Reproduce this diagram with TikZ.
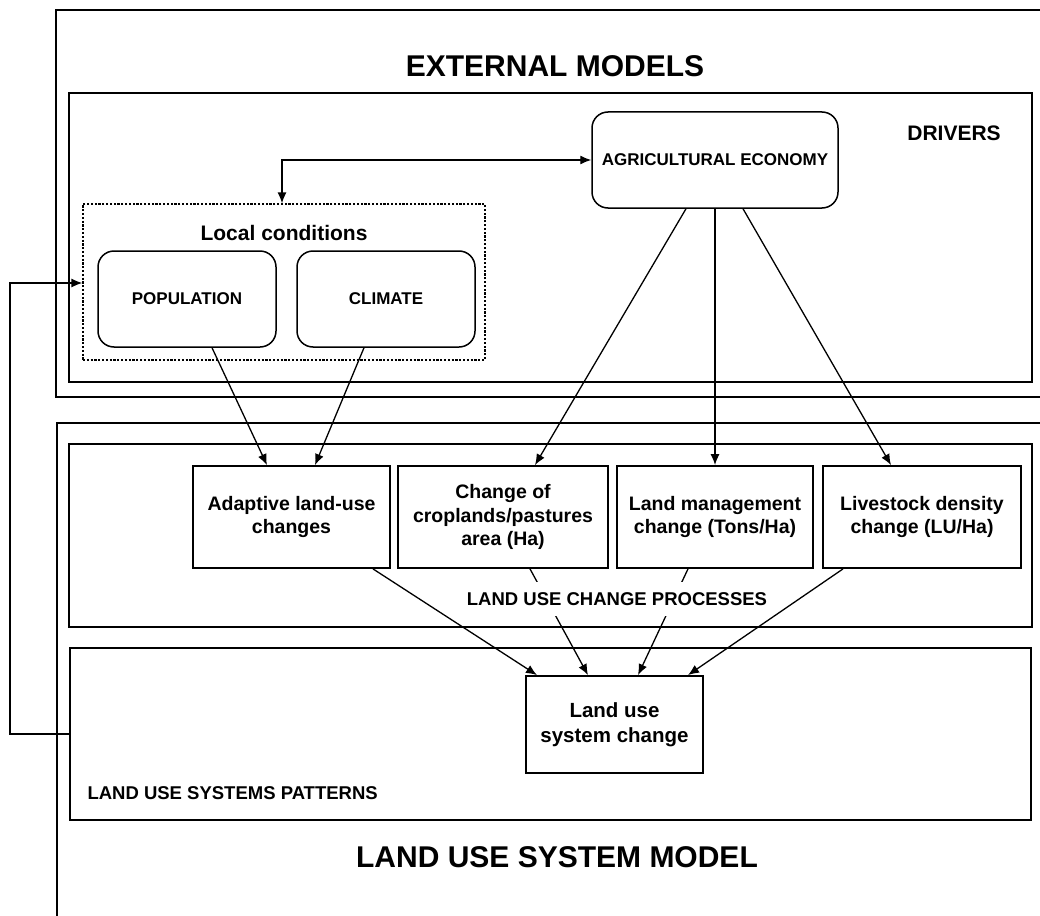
\documentclass[tikz,border=0pt]{standalone}
\usepackage{fontspec}
\setmainfont{Liberation Sans}
\usetikzlibrary{arrows.meta,calc}
\newcommand\myfs[2]{\fontsize{#1}{#2}\selectfont\bfseries}
\begin{document}
\begin{tikzpicture}[x=1pt,y=-1pt,
  frame/.style={draw, line width=2.3pt},
  panel/.style={draw, line width=1.7pt, inner sep=0pt},
  procbox/.style={draw, line width=1.8pt, inner sep=0pt, align=center, font=\myfs{19.5}{23.5}},
  roundbox/.style={draw, line width=1.5pt, rounded corners=16pt, inner sep=0pt, align=center, font=\myfs{17}{20}},
  localbox/.style={draw, line width=1.3pt, dash pattern=on 2.2pt off 1.6pt, inner sep=0pt},
  arr/.style={line width=1.3pt, -{Latex[length=11pt,width=9pt]}},
  biarr/.style={line width=1.3pt, {Latex[length=11pt,width=9pt]}-{Latex[length=11pt,width=9pt]}},
  title/.style={font=\myfs{30}{34}},
  label/.style={font=\myfs{21}{25}},
  small/.style={font=\myfs{18.5}{22}}
]
\useasboundingbox (0,0) rectangle (1040,915);
\clip (0,0) rectangle (1040,915);

% outer frames
\draw[frame] (1060,10) -- (56,10) -- (56,397) -- (1060,397);
\draw[frame] (1060,423) -- (57,423) -- (57,930);

% titles
\node[title] (exttitle) at (555,66) {EXTERNAL MODELS};
\node[title] (lustitle) at (557,857) {LAND USE SYSTEM MODEL};

% panels
\node[panel, minimum width=963pt, minimum height=289pt] (drivers) at (550.5,237.5) {};
\node[panel, minimum width=963pt, minimum height=183pt] (lucp) at (550.5,535.5) {};
\node[panel, minimum width=961pt, minimum height=172pt] (lusp) at (550.5,734) {};

\node[label] (driverslbl) at (954,133) {DRIVERS};
\node[small, anchor=west] (lusplbl) at (84,793) {LAND USE SYSTEMS PATTERNS};

% local conditions
\node[localbox, minimum width=402pt, minimum height=156pt] (local) at (284,282) {};
\node[label] (locallbl) at (284,233) {Local conditions};
\node[roundbox, minimum width=178pt, minimum height=96pt] (pop) at (187,299) {POPULATION};
\node[roundbox, minimum width=178pt, minimum height=96pt] (clim) at (386,299) {CLIMATE};

% agricultural economy
\node[roundbox, minimum width=246pt, minimum height=96pt] (agri) at (715,160) {AGRICULTURAL ECONOMY};

% process boxes
\node[procbox, minimum width=197pt, minimum height=102pt] (adapt) at (291.5,517) {Adaptive land-use\\changes};
\node[procbox, minimum width=210pt, minimum height=102pt] (crop) at (503,517) {Change of\\croplands/pastures\\area (Ha)};
\node[procbox, minimum width=196pt, minimum height=102pt] (mgmt) at (715,517) {Land management\\change (Tons/Ha)};
\node[procbox, minimum width=198pt, minimum height=102pt] (live) at (922,517) {Livestock density\\change (LU/Ha)};

% land use system change
\node[procbox, font=\myfs{20.5}{25.5}, minimum width=177pt, minimum height=97pt] (lusc) at (614.5,724.5) {Land use\\system change};

% connectors
\draw[biarr] (local.north -| 282,0) -- (282,160) -- (agri.west);

\draw[arr] ([xshift=25pt]pop.south) -- ([xshift=-24.5pt]adapt.north);
\draw[arr] ([xshift=-22pt]clim.south) -- ([xshift=23.5pt]adapt.north);

\draw[arr] ([xshift=-29pt]agri.south) -- ([xshift=32pt]crop.north);
\draw[arr] (agri.south) -- (mgmt.north);
\draw[arr] ([xshift=28pt]agri.south) -- ([xshift=-31pt]live.north);

\draw[arr] ([xshift=81.5pt]adapt.south) -- ([xshift=-77.5pt]lusc.north);
\draw[arr] ([xshift=27pt]crop.south) -- ([xshift=-26.5pt]lusc.north);
\draw[arr] ([xshift=-27pt]mgmt.south) -- ([xshift=23.5pt]lusc.north);
\draw[arr] ([xshift=-79pt]live.south) -- ([xshift=73.5pt]lusc.north);

\node[small, fill=white, inner xsep=2pt, inner ysep=10pt] (lucplbl) at (617,599) {LAND USE CHANGE PROCESSES};

% feedback loop
\draw[arr] (lusp.west) -- (10,734) -- (10,283) -- (local.west |- 0,283);
\end{tikzpicture}
\end{document}
